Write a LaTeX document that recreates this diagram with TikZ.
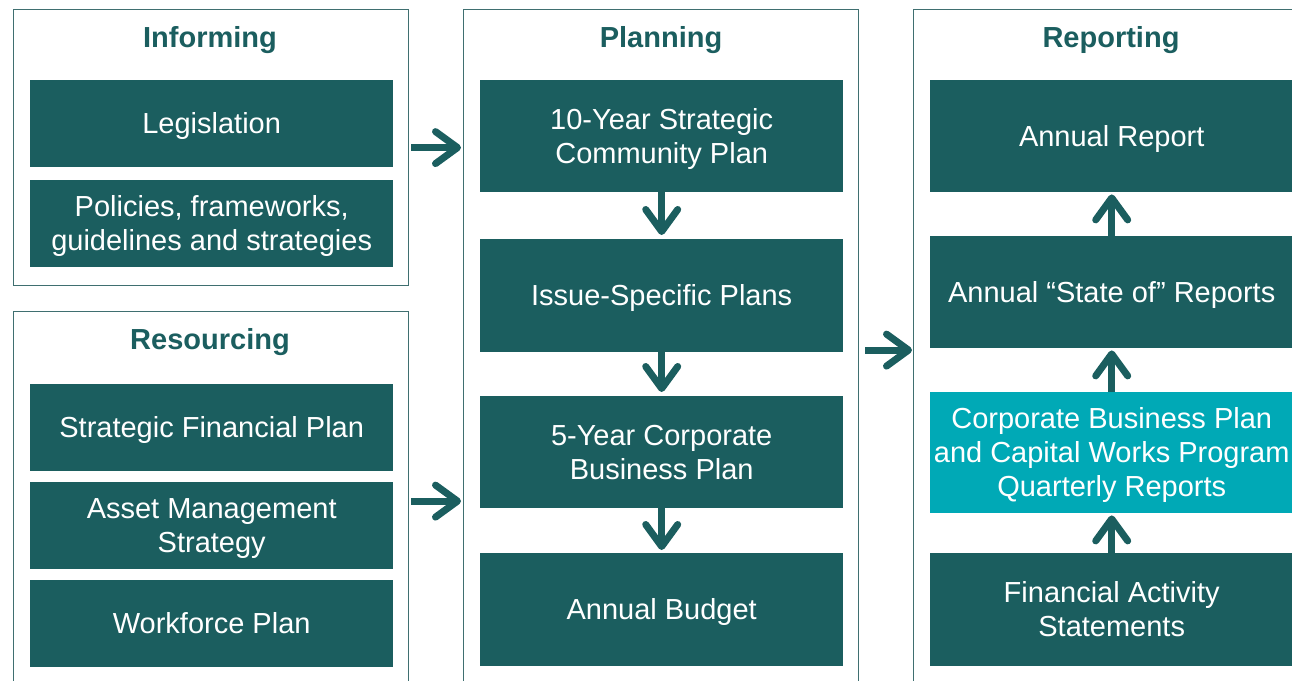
\documentclass[tikz,border=0pt]{standalone}
\usepackage{fontspec}
\setmainfont{Liberation Sans}
\usetikzlibrary{arrows.meta,calc}
\definecolor{teal}{HTML}{1B5E5F}
\definecolor{cyanbox}{HTML}{00A9B6}
\definecolor{frame}{HTML}{3F6F70}
\newcommand\bt[1]{\raisebox{-3pt}[\height][\depth]{\begin{tabular}{@{}c@{}}#1\end{tabular}}}
\tikzset{
  panel/.style={draw=frame,line width=1.2pt,fill=white,anchor=north west,inner sep=0pt},
  ptitle/.style={text=teal,font=\fontsize{29}{34}\selectfont\bfseries,anchor=center},
  box/.style={fill=teal,text=white,font=\fontsize{29}{34}\selectfont,inner sep=0pt,anchor=north west},
  flow/.style={draw=teal,line width=7pt,-{Straight Barb[length=22pt,width=32pt,line width=7pt,round]}}
}
\begin{document}
\begin{tikzpicture}[x=1pt,y=-1pt]
\useasboundingbox (0,0) rectangle (1292,680);
\clip (0,0) rectangle (1292,680);
% panels
\node[panel,minimum width=395pt,minimum height=276pt] (inf) at (13,9) {};
\node[panel,minimum width=395pt,minimum height=379pt] (res) at (13,311) {};
\node[panel,minimum width=395pt,minimum height=681pt] (plan) at (463,9) {};
\node[panel,minimum width=395pt,minimum height=681pt] (rep) at (913,9) {};
% titles
\node[ptitle] (tinf) at (210,40) {Informing};
\node[ptitle] (tres) at (210,342) {Resourcing};
\node[ptitle] (tplan) at (661,40) {Planning};
\node[ptitle] (trep) at (1111,40) {Reporting};
% informing boxes
\node[box,minimum width=363pt,minimum height=87pt] (leg) at (30,80) {\bt{Legislation}};
\node[box,minimum width=363pt,minimum height=87pt] (pol) at (30,180) {\bt{Policies, frameworks,\\guidelines and strategies}};
% resourcing boxes
\node[box,minimum width=363pt,minimum height=87pt] (sfp) at (30,384) {\bt{Strategic Financial Plan}};
\node[box,minimum width=363pt,minimum height=87pt] (ams) at (30,482) {\bt{Asset Management\\Strategy}};
\node[box,minimum width=363pt,minimum height=87pt] (wfp) at (30,580) {\bt{Workforce Plan}};
% planning boxes
\node[box,minimum width=363pt,minimum height=112pt] (p1) at (480,80) {\bt{10-Year Strategic\\Community Plan}};
\node[box,minimum width=363pt,minimum height=113pt] (p2) at (480,239) {\bt{Issue-Specific Plans}};
\node[box,minimum width=363pt,minimum height=112pt] (p3) at (480,396) {\bt{5-Year Corporate\\Business Plan}};
\node[box,minimum width=363pt,minimum height=113pt] (p4) at (480,553) {\bt{Annual Budget}};
% reporting boxes
\node[box,minimum width=363pt,minimum height=112pt] (r1) at (930,80) {\bt{Annual Report}};
\node[box,minimum width=363pt,minimum height=112pt] (r2) at (930,236) {\bt{Annual \char"201C State of\char"201D\ Reports}};
\node[box,fill=cyanbox,minimum width=363pt,minimum height=121pt] (r3) at (930,392) {\bt{Corporate Business Plan\\and Capital Works Program\\Quarterly Reports}};
\node[box,minimum width=363pt,minimum height=113pt] (r4) at (930,553) {\bt{Financial Activity\\Statements}};
% connectors
\draw[flow] ($(inf.east)+(2,0)$) -- ($(plan.west |- inf.east)+(-2,0)$);
\draw[flow] ($(res.east)+(2,0)$) -- ($(plan.west |- res.east)+(-2,0)$);
\draw[flow] ($(plan.east)+(6,0)$) -- ($(rep.west)+(-1,0)$);
\draw[flow] (p1.south) -- ($(p2.north)+(0,-4)$);
\draw[flow] (p2.south) -- ($(p3.north)+(0,-4)$);
\draw[flow] (p3.south) -- ($(p4.north)+(0,-3)$);
\draw[flow] (r2.north) -- ($(r1.south)+(0,2)$);
\draw[flow] (r3.north) -- ($(r2.south)+(0,2)$);
\draw[flow] (r4.north) -- ($(r3.south)+(0,2)$);
\end{tikzpicture}
\end{document}
